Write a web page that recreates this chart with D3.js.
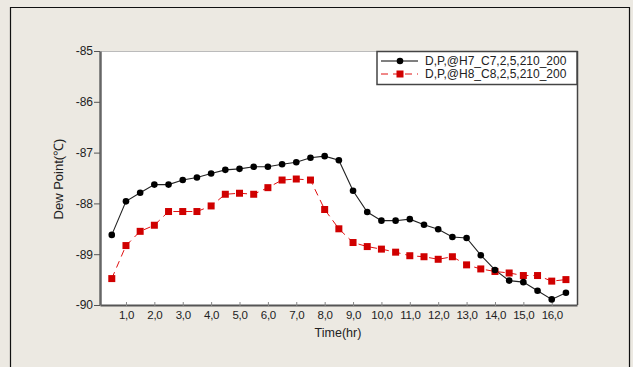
<!DOCTYPE html>
<html><head><meta charset="utf-8">
<script src="https://cdn.jsdelivr.net/npm/d3@7"></script>
<style>html,body{margin:0;padding:0;background:#ECE9E2;}svg{display:block;}</style>
</head><body>
<svg id="chart" width="633" height="367"></svg>
<script>
const hours = [0.5,1,1.5,2,2.5,3,3.5,4,4.5,5,5.5,6,6.5,7,7.5,8,8.5,9,9.5,10,10.5,11,11.5,12,12.5,13,13.5,14,14.5,15,15.5,16,16.5];
const seriesH7 = [-88.62,-87.96,-87.79,-87.63,-87.63,-87.54,-87.49,-87.41,-87.34,-87.32,-87.28,-87.28,-87.23,-87.19,-87.10,-87.07,-87.15,-87.75,-88.17,-88.34,-88.34,-88.31,-88.42,-88.51,-88.66,-88.68,-89.02,-89.31,-89.52,-89.55,-89.72,-89.89,-89.76];
const seriesH8 = [-89.48,-88.83,-88.55,-88.43,-88.16,-88.16,-88.16,-88.05,-87.82,-87.80,-87.82,-87.69,-87.54,-87.52,-87.54,-88.12,-88.50,-88.77,-88.85,-88.90,-88.96,-89.03,-89.05,-89.10,-89.05,-89.21,-89.29,-89.34,-89.37,-89.42,-89.42,-89.53,-89.50];
const seriesNames = ["D,P,@H7_C7,2,5,210_200","D,P,@H8_C8,2,5,210_200"];
const xTicks = [1,2,3,4,5,6,7,8,9,10,11,12,13,14,15,16];
const yTicks = [-85,-86,-87,-88,-89,-90];
const xTitle = "Time(hr)";
const yTitle = "Dew Point(℃)";

const svg = d3.select("#chart");
const font = "'Liberation Sans', Arial, sans-serif";
const L = 100, R = 577, T = 51, B = 305;

svg.append("rect").attr("x",0).attr("y",0).attr("width",633).attr("height",367).attr("fill","#ECE9E2");
svg.append("path").attr("d","M10.5,367 V7.5 H629.5 V367").attr("fill","none").attr("stroke","#111").attr("stroke-width",1.2);

const x = d3.scaleLinear().domain([0.085,16.89]).range([L,R]);
const y = d3.scaleLinear().domain([-90,-85]).range([B,T]);

svg.append("rect").attr("x",L).attr("y",T).attr("width",R-L).attr("height",B-T).attr("fill","#fff");
svg.append("line").attr("x1",L).attr("x2",R).attr("y1",T+0.5).attr("y2",T+0.5).attr("stroke","#bbb");
svg.append("line").attr("x1",R+0.5).attr("x2",R+0.5).attr("y1",T).attr("y2",B).attr("stroke","#444").attr("stroke-width",1.5);

const xAxis = d3.axisBottom(x).tickValues(xTicks).tickSize(4).tickSizeOuter(0)
  .tickFormat(d => d3.format(".1f")(d).replace(".", ","));
const gx = svg.append("g").attr("transform",`translate(0,${B})`).call(xAxis);
gx.select(".domain").attr("stroke","#555").attr("stroke-width",2);
gx.selectAll(".tick line").attr("stroke","#888").attr("transform","translate(0,-3)");
gx.selectAll("text").attr("font-family",font).attr("font-size",11.5).attr("fill","#222").attr("dy","0.9em").attr("y",4).attr("letter-spacing","-0.3");

const yAxis = d3.axisLeft(y).tickValues(yTicks).tickSize(6).tickSizeOuter(0).tickFormat(d => String(d));
const gy = svg.append("g").attr("transform",`translate(${L},0)`).call(yAxis);
gy.select(".domain").attr("stroke","#666").attr("stroke-width",2.5);
gy.selectAll(".tick line").attr("stroke","#555");
gy.selectAll("text").attr("font-family",font).attr("font-size",12).attr("fill","#222").attr("x",-7);

svg.append("text").attr("x",338).attr("y",337).attr("text-anchor","middle")
  .attr("font-family",font).attr("font-size",12.5).attr("fill","#222").text(xTitle);
svg.append("text").attr("transform","translate(63,179) rotate(-90)").attr("text-anchor","middle")
  .attr("font-family",font).attr("font-size",13).attr("fill","#222").text(yTitle);

const line = d3.line().x((d,i)=>x(hours[i])).y(d=>y(d));
const plot = svg.append("g");
plot.append("path").datum(seriesH8).attr("d",line).attr("fill","none").attr("stroke","#E01010").attr("stroke-width",1).attr("stroke-dasharray","7,5");
plot.append("path").datum(seriesH7).attr("d",line).attr("fill","none").attr("stroke","#222").attr("stroke-width",1.1);
plot.selectAll(".sq").data(seriesH8).enter().append("rect")
  .attr("x",(d,i)=>x(hours[i])-3.5).attr("y",d=>y(d)-3.5).attr("width",7).attr("height",7).attr("fill","#D00000");
plot.selectAll(".ci").data(seriesH7).enter().append("circle")
  .attr("cx",(d,i)=>x(hours[i])).attr("cy",d=>y(d)).attr("r",3.3).attr("fill","#000");

const lg = svg.append("g");
lg.append("rect").attr("x",377).attr("y",51.5).attr("width",200).attr("height",33).attr("fill","#fff").attr("stroke","#444").attr("stroke-width",1.5);
const rows = [{y:61,color:"#000",dash:null,marker:"circle"},{y:74,color:"#E01010",dash:"7,5",marker:"rect"}];
rows.forEach((r,i)=>{
  lg.append("line").attr("x1",381).attr("x2",418).attr("y1",r.y).attr("y2",r.y).attr("stroke",r.color).attr("stroke-width",1).attr("stroke-dasharray",r.dash);
  if(r.marker==="circle") lg.append("circle").attr("cx",400).attr("cy",r.y).attr("r",3.3).attr("fill","#000");
  else lg.append("rect").attr("x",396.5).attr("y",r.y-3.5).attr("width",7).attr("height",7).attr("fill","#D00000");
  lg.append("text").attr("x",425).attr("y",r.y).attr("dy","0.35em").attr("font-family",font).attr("font-size",12).attr("fill","#222").text(seriesNames[i]);
});
</script>
</body></html>
